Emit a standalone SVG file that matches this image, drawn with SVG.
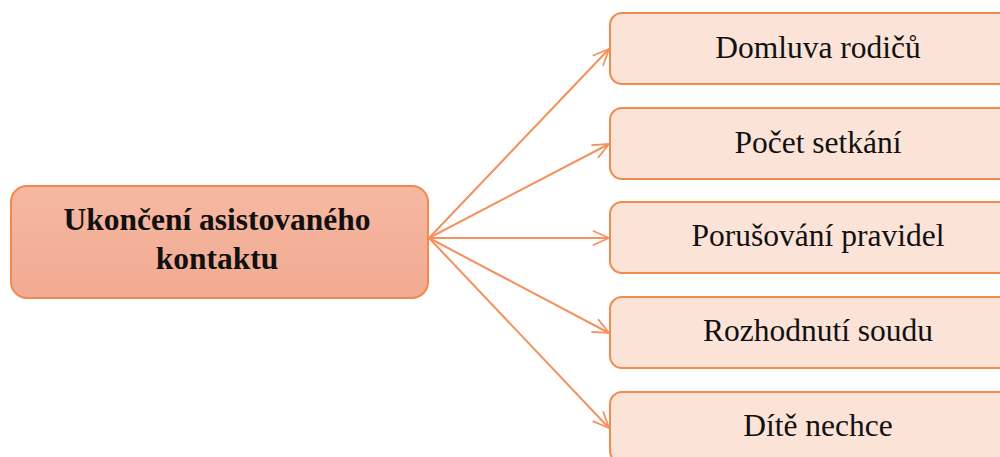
<svg xmlns="http://www.w3.org/2000/svg" width="1000" height="457" viewBox="0 0 1000 457">
<style>
.box{fill:#fbe3d7;stroke:#f08a4f;stroke-width:2}
.lbl{font-family:'Liberation Serif','Times New Roman',serif;font-size:31.5px;fill:#111;text-anchor:middle}
.main{font-weight:bold}
.conn{stroke:#f4915f;stroke-width:2;fill:none}
</style>
<defs>
<linearGradient id="g" x1="0" y1="0" x2="0" y2="1">
<stop offset="0" stop-color="#f6b8a2"/>
<stop offset="1" stop-color="#f1aa92"/>
</linearGradient>
<marker id="a" viewBox="0 0 20 20" refX="19" refY="10" markerWidth="18" markerHeight="18" markerUnits="userSpaceOnUse" orient="auto">
<path d="M1 2 L19 10 L1 18" fill="none" stroke="#f4915f" stroke-width="2"/>
</marker>
</defs>
<g id="connectors">
<line class="conn" x1="429" y1="238" x2="609" y2="49" marker-end="url(#a)"/>
<line class="conn" x1="429" y1="238" x2="609" y2="144" marker-end="url(#a)"/>
<line class="conn" x1="429" y1="238" x2="609" y2="238" marker-end="url(#a)"/>
<line class="conn" x1="429" y1="238" x2="609" y2="333" marker-end="url(#a)"/>
<line class="conn" x1="429" y1="238" x2="609" y2="428" marker-end="url(#a)"/>
</g>
<g id="main">
<rect x="11" y="186" width="417" height="112" rx="16" fill="url(#g)" stroke="#f08a4f" stroke-width="2"/>
<text class="lbl main" x="217" y="230">Ukončení asistovaného</text>
<text class="lbl main" x="217" y="269">kontaktu</text>
</g>
<g id="n1"><rect class="box" x="610" y="13" width="420" height="71" rx="12"/><text class="lbl" x="818" y="58">Domluva rodičů</text></g>
<g id="n2"><rect class="box" x="610" y="108" width="420" height="71" rx="12"/><text class="lbl" x="818" y="153">Počet setkání</text></g>
<g id="n3"><rect class="box" x="610" y="202" width="420" height="71" rx="12"/><text class="lbl" x="818" y="246">Porušování pravidel</text></g>
<g id="n4"><rect class="box" x="610" y="297" width="420" height="71" rx="12"/><text class="lbl" x="818" y="341">Rozhodnutí soudu</text></g>
<g id="n5"><rect class="box" x="610" y="392" width="420" height="71" rx="12"/><text class="lbl" x="818" y="436">Dítě nechce</text></g>
</svg>
